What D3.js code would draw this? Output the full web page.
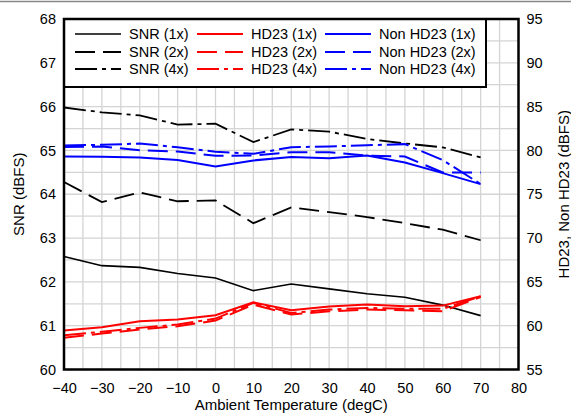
<!DOCTYPE html>
<html><head><meta charset="utf-8">
<script src="https://cdn.jsdelivr.net/npm/d3@7"></script>
<style>body{margin:0;background:#fff}text{font-family:"Liberation Sans",Arial,sans-serif;fill:#000}</style>
</head><body><svg id="c" width="571" height="416"></svg>
<script>
const temps = [-40,-30,-20,-10,0,10,20,30,40,50,60,70];
const snr1x = [62.58,62.37,62.33,62.19,62.09,61.80,61.95,61.84,61.73,61.65,61.47,61.23];
const snr2x = [64.28,63.82,64.04,63.84,63.86,63.34,63.70,63.59,63.48,63.34,63.19,62.95];
const snr4x = [65.98,65.87,65.80,65.59,65.61,65.19,65.48,65.43,65.26,65.16,65.07,64.84];
const hd1x = [59.44,59.82,60.51,60.70,61.19,62.67,61.76,62.18,62.41,62.22,62.29,63.35];
const hd2x = [58.61,59.10,59.56,59.94,60.58,62.41,61.27,61.64,61.84,61.76,61.64,63.28];
const hd4x = [58.91,59.30,59.75,60.13,60.81,62.60,61.46,61.84,62.03,61.92,61.92,63.35];
const nonhd1x = [79.31,79.27,79.20,78.90,78.17,78.86,79.24,79.12,79.42,78.63,77.41,76.16];
const nonhd2x = [80.38,80.45,80.03,79.88,79.39,79.42,79.80,79.80,79.42,79.31,77.48,77.48];
const nonhd4x = [80.56,80.64,80.79,80.37,79.84,79.61,80.37,80.45,80.60,80.72,78.90,76.16];
const xTicks = [-40,-30,-20,-10,0,10,20,30,40,50,60,70,80];
const yLeftTicks = [60,61,62,63,64,65,66,67,68];
const yRightTicks = [55,60,65,70,75,80,85,90,95];
const legendLabels = ["SNR (1x)","HD23 (1x)","Non HD23 (1x)","SNR (2x)","HD23 (2x)","Non HD23 (2x)","SNR (4x)","HD23 (4x)","Non HD23 (4x)"];

const svg = d3.select("#c");
const L=64,R=518.5,T=19,B=369.5;
const x = d3.scaleLinear().domain([-40,80]).range([L,R]);
const yL = d3.scaleLinear().domain([60,68]).range([B,T]);
const yR = d3.scaleLinear().domain([55,95]).range([B,T]);

svg.append("line").attr("x1",0).attr("x2",571).attr("y1",1.5).attr("y2",1.5).attr("stroke","#888").attr("stroke-width",1.5);

// grid
const g = svg.append("g");
d3.range(-40,80.1,5).forEach(v=>g.append("line").attr("x1",x(v)).attr("x2",x(v)).attr("y1",T).attr("y2",B).attr("stroke","#d4d4d4").attr("stroke-width",1.3));
d3.range(60,68.01,0.5).forEach(v=>g.append("line").attr("x1",L).attr("x2",R).attr("y1",yL(v)).attr("y2",yL(v)).attr("stroke","#d4d4d4").attr("stroke-width",1.3));

const dash = {s:null, d:"20,8", dd:"22,5,4,5"};
const series = [
 {v:snr1x,s:yL,c:"#000",d:dash.s,w:1.6},
 {v:snr2x,s:yL,c:"#000",d:dash.d,w:1.8},
 {v:snr4x,s:yL,c:"#000",d:dash.dd,w:1.8},
 {v:hd1x,s:yR,c:"#ff0000",d:dash.s,w:2},
 {v:hd2x,s:yR,c:"#ff0000",d:dash.d,w:2},
 {v:hd4x,s:yR,c:"#ff0000",d:dash.dd,w:2},
 {v:nonhd1x,s:yR,c:"#0000ff",d:dash.s,w:2},
 {v:nonhd2x,s:yR,c:"#0000ff",d:dash.d,w:2},
 {v:nonhd4x,s:yR,c:"#0000ff",d:dash.dd,w:2}
];
series.forEach(se=>{
  const line = d3.line().x((d,i)=>x(temps[i])).y(d=>se.s(d));
  svg.append("path").attr("d",line(se.v)).attr("fill","none").attr("stroke",se.c).attr("stroke-width",se.w).attr("stroke-dasharray",se.d);
});

// legend
svg.append("rect").attr("x",L).attr("y",T).attr("width",486-L).attr("height",87-T).attr("fill","#fff").attr("stroke","#000").attr("stroke-width",2);
const colX=[75,197,325], rowY=[34,52,69];
for(let r=0;r<3;r++) for(let c=0;c<3;c++){
  const se = series[c*3+r];
  svg.append("line").attr("x1",colX[c]).attr("x2",colX[c]+46).attr("y1",rowY[r]).attr("y2",rowY[r]).attr("stroke",se.c).attr("stroke-width",se.w).attr("stroke-dasharray",se.d);
  svg.append("text").attr("x",colX[c]+54).attr("y",rowY[r]+5).attr("font-size",14.5).text(legendLabels[r*3+c]);
}

// frame
svg.append("rect").attr("x",L).attr("y",T).attr("width",R-L).attr("height",B-T).attr("fill","none").attr("stroke","#000").attr("stroke-width",2.5);

// axes (labels only)
const ax = svg.append("g").attr("transform",`translate(0,${B})`).call(d3.axisBottom(x).tickValues(xTicks).tickSize(0).tickPadding(13.2));
const ayl = svg.append("g").attr("transform",`translate(${L},0)`).call(d3.axisLeft(yL).tickValues(yLeftTicks).tickSize(0).tickPadding(8));
const ayr = svg.append("g").attr("transform",`translate(${R},0)`).call(d3.axisRight(yR).tickValues(yRightTicks).tickSize(0).tickPadding(8));
[ax,ayl,ayr].forEach(a=>{a.select(".domain").remove();a.selectAll("text").attr("font-size",14.5).attr("font-family","Liberation Sans, Arial, sans-serif").attr("fill","#000");});

svg.append("text").attr("x",(L+R)/2).attr("y",410).attr("text-anchor","middle").attr("font-size",15).text("Ambient Temperature (degC)");
svg.append("text").attr("transform",`translate(23.5,${(T+B)/2}) rotate(-90)`).attr("text-anchor","middle").attr("font-size",15).text("SNR (dBFS)");
svg.append("text").attr("transform",`translate(568.5,${(T+B)/2}) rotate(-90)`).attr("text-anchor","middle").attr("font-size",15).text("HD23, Non HD23 (dBFS)");
</script></body></html>
